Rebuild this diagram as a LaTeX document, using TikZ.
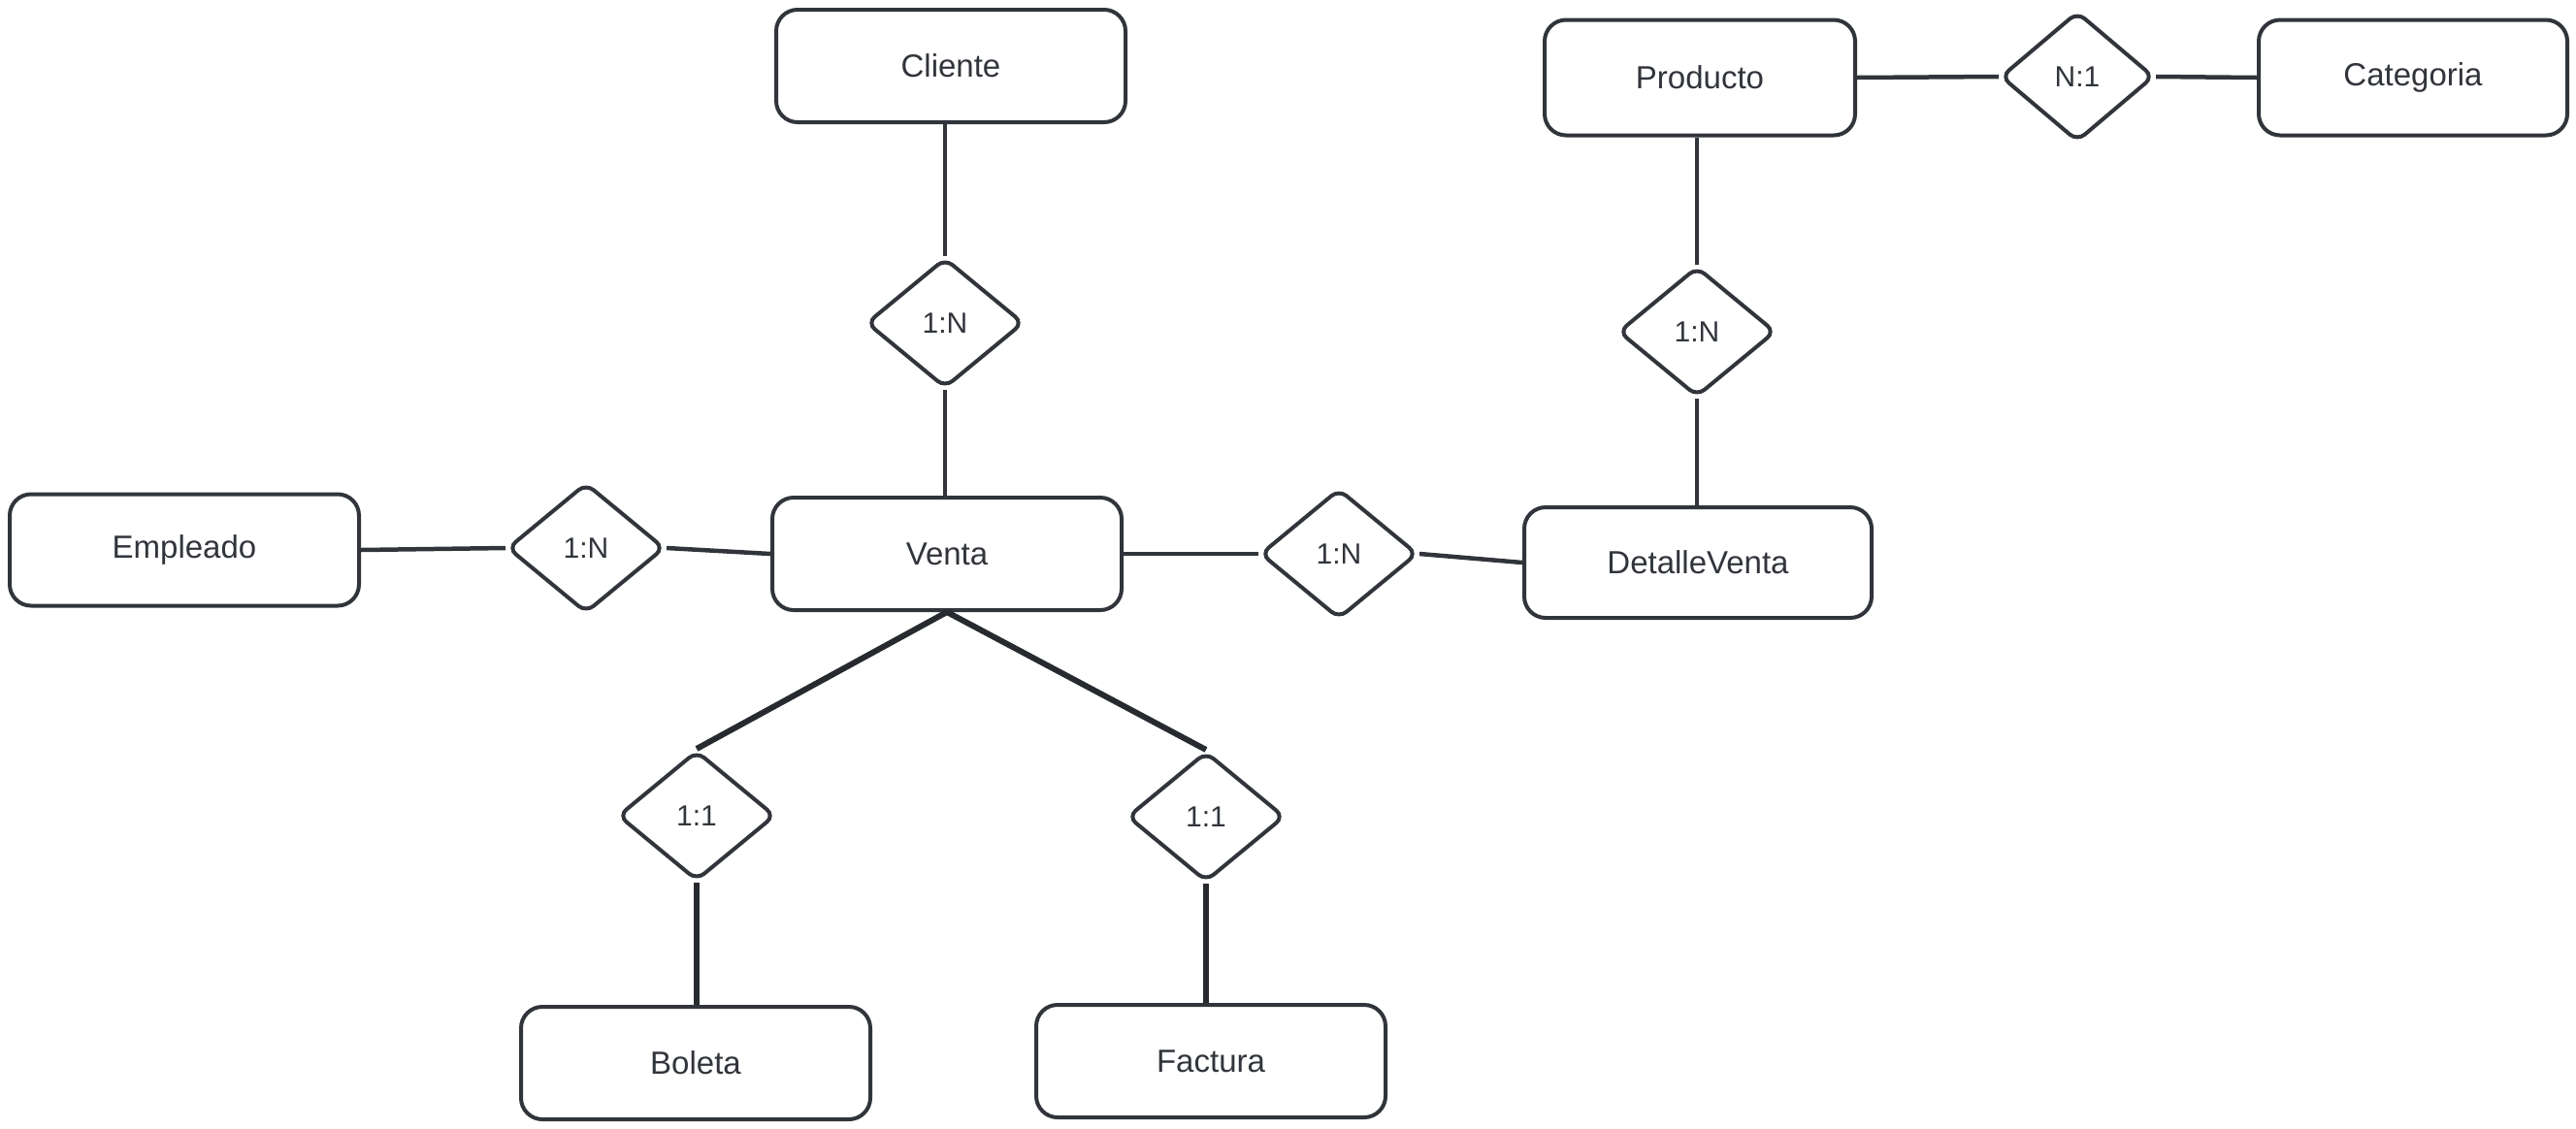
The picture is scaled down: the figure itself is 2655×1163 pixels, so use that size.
\documentclass[tikz,border=0pt]{standalone}
\usepackage{fontspec}
\setmainfont{Liberation Sans}
\usetikzlibrary{shapes.geometric}
\definecolor{ink}{HTML}{31353B}
\begin{document}
\begin{tikzpicture}[x=1pt,y=-1pt,
  ent/.style={draw=ink, line width=4pt, rounded corners=22pt, minimum width=360pt, minimum height=116pt,
    font=\fontsize{33}{38}\selectfont, text=ink, inner sep=0pt},
  rel/.style={draw=ink, line width=4pt, shape=diamond, rounded corners=10pt, minimum width=162pt, minimum height=134pt,
    font=\fontsize{30}{34}\selectfont, text=ink, inner sep=0pt},
  link/.style={draw=ink, line width=4.5pt},
  thick link/.style={draw=ink!80!black, line width=6pt}]
\useasboundingbox (0,0) rectangle (2655,1163);
\node[ent] (cliente) at (980,68) {Cliente};
\node[rel] (r1) at (974,333) {1:N};
\node[ent, minimum width=320pt, minimum height=119pt] (producto) at (1752,80) {Producto};
\node[rel, minimum width=158pt] (r2) at (2141,79) {N:1};
\node[ent, minimum width=318pt, minimum height=119pt] (categoria) at (2487,80) {Categoria};
\node[rel] (r3) at (1749,342) {1:N};
\node[ent, minimum height=115pt] (empleado) at (190,567) {Empleado};
\node[rel] (r4) at (604,565) {1:N};
\node[ent] (venta) at (976,571) {Venta};
\node[rel] (r5) at (1380,571) {1:N};
\node[ent, minimum width=358pt, minimum height=114pt] (detalle) at (1750,580) {DetalleVenta};
\node[rel] (r6) at (718,841) {1:1};
\node[rel] (r7) at (1243,842) {1:1};
\node[ent] (boleta) at (717,1096) {Boleta};
\node[ent] (factura) at (1248,1094) {Factura};
\draw[link] (r1.north |- cliente.south) -- (r1.north);
\draw[link] (r1.south) -- (r1.south |- venta.north);
\draw[link] (empleado.east) -- (r4.west);
\draw[link] (r4.east) -- (venta.west);
\draw[link] (venta.east) -- (r5.west);
\draw[link] (r5.east) -- (detalle.west);
\draw[link] (r3.north |- producto.south) -- (r3.north);
\draw[link] (r3.south) -- (r3.south |- detalle.north);
\draw[link] (producto.east) -- (r2.west);
\draw[link] (r2.east) -- (categoria.west);
\draw[thick link] (venta.south) -- (r6.north);
\draw[thick link] (venta.south) -- (r7.north);
\draw[thick link] (r6.south) -- (r6.south |- boleta.north);
\draw[thick link] (r7.south) -- (r7.south |- factura.north);
\end{tikzpicture}
\end{document}
